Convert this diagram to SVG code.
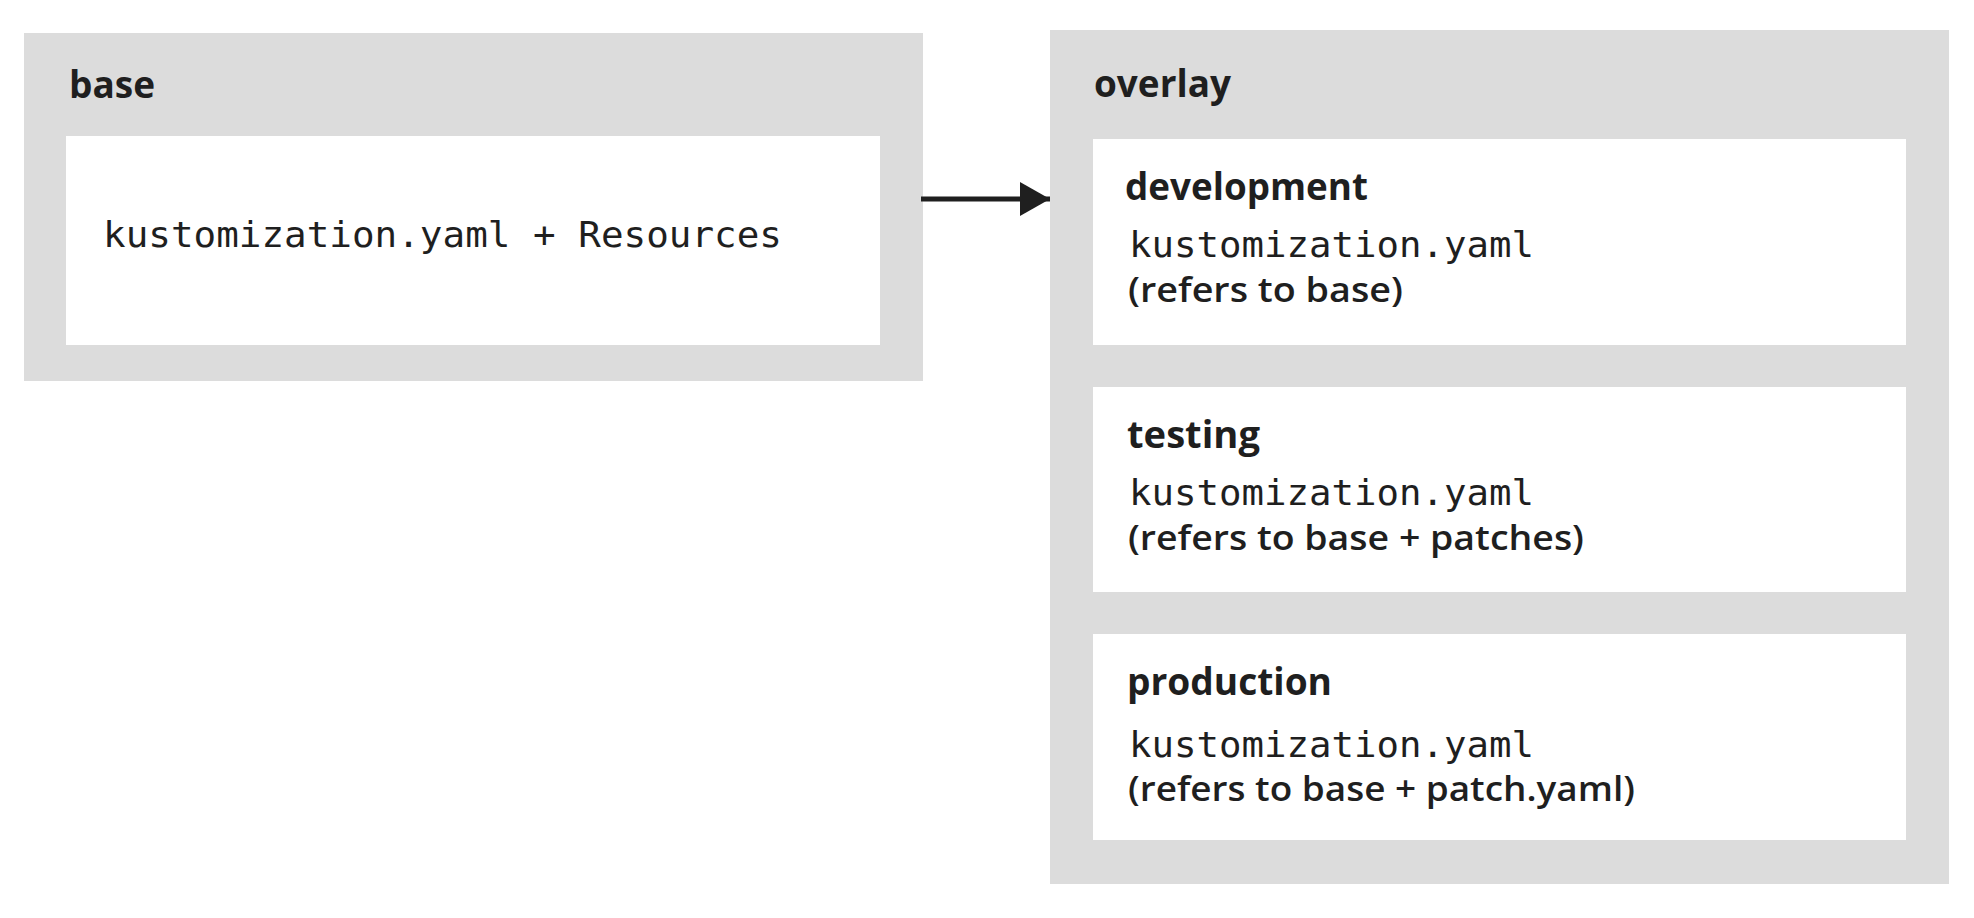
<svg xmlns="http://www.w3.org/2000/svg" width="1974" height="918" viewBox="0 0 1974 918">
<defs>
<style>
.outer{fill:#dcdcdc;}
.inner{fill:#ffffff;}
.title{font-family:"Open Sans","Liberation Sans",sans-serif;font-weight:700;font-size:38px;fill:#1f1f1f;}
.mono{font-family:"DejaVu Sans Mono","Liberation Mono",monospace;font-size:36px;fill:#1f1f1f;}
.note{font-family:"Open Sans","Liberation Sans",sans-serif;font-weight:600;font-size:34px;fill:#1f1f1f;}
.conn{stroke:#1f1f1f;stroke-width:5;fill:none;}
</style>
<marker id="arrow" markerUnits="userSpaceOnUse" markerWidth="32" markerHeight="36" refX="30" refY="17" orient="auto">
<path d="M0,0 L30,17 L0,34 Z" fill="#1f1f1f"/>
</marker>
</defs>
<rect width="1974" height="918" fill="#ffffff"/>
<g id="base">
<rect class="outer" x="24" y="33" width="899" height="348"/>
<text class="title" x="69" y="98" textLength="86" lengthAdjust="spacingAndGlyphs">base</text>
<rect class="inner" x="66" y="136" width="814" height="209"/>
<text class="mono" x="103" y="247" textLength="679" lengthAdjust="spacingAndGlyphs">kustomization.yaml + Resources</text>
</g>
<g id="overlay">
<rect class="outer" x="1050" y="30" width="899" height="854"/>
<text class="title" x="1094" y="97" textLength="137" lengthAdjust="spacingAndGlyphs">overlay</text>
</g>
<g id="development">
<rect class="inner" x="1093" y="139" width="813" height="206"/>
<text class="title" x="1125" y="200" textLength="243" lengthAdjust="spacingAndGlyphs">development</text>
<text class="mono" x="1129" y="257" textLength="405" lengthAdjust="spacingAndGlyphs">kustomization.yaml</text>
<text class="note" x="1128" y="302" textLength="275" lengthAdjust="spacingAndGlyphs">(refers to base)</text>
</g>
<g id="testing">
<rect class="inner" x="1093" y="387" width="813" height="205"/>
<text class="title" x="1127" y="448" textLength="133" lengthAdjust="spacingAndGlyphs">testing</text>
<text class="mono" x="1129" y="505" textLength="405" lengthAdjust="spacingAndGlyphs">kustomization.yaml</text>
<text class="note" x="1128" y="550" textLength="456" lengthAdjust="spacingAndGlyphs">(refers to base + patches)</text>
</g>
<g id="production">
<rect class="inner" x="1093" y="634" width="813" height="206"/>
<text class="title" x="1127" y="695" textLength="205" lengthAdjust="spacingAndGlyphs">production</text>
<text class="mono" x="1129" y="757" textLength="405" lengthAdjust="spacingAndGlyphs">kustomization.yaml</text>
<text class="note" x="1128" y="801" textLength="507" lengthAdjust="spacingAndGlyphs">(refers to base + patch.yaml)</text>
</g>
<g id="connectors">
<line class="conn" x1="921" y1="199" x2="1050" y2="199" marker-end="url(#arrow)"/>
</g>
</svg>
